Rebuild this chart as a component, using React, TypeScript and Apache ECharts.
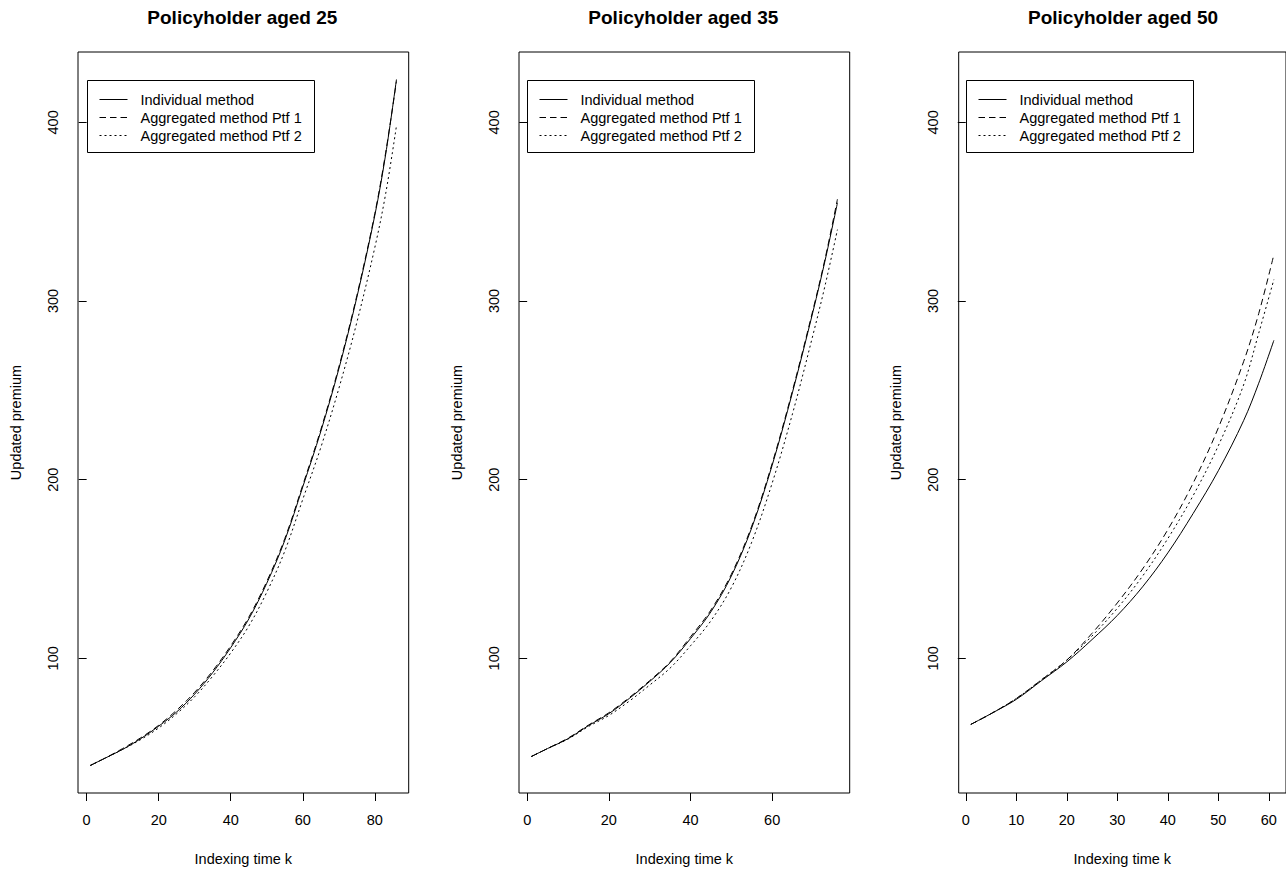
import React, { useEffect, useRef } from "react";
import * as echarts from "echarts";

// ---------- data ----------
const TITLES = ["Policyholder aged 25", "Policyholder aged 35", "Policyholder aged 50"];
const SERIES_NAMES = ["Individual method", "Aggregated method Ptf 1", "Aggregated method Ptf 2"];

// Panel 1 (aged 25)
const K1 = [1, 5, 10, 15, 20, 25, 30, 35, 40, 45, 50, 55, 60, 65, 70, 75, 80, 83, 86];
const IND1 = [40, 44, 49, 55, 62, 70, 80, 92, 106, 122, 142, 166, 196, 227, 262, 302, 348, 382, 424];
const PTF1_1 = [40, 44, 49.5, 55.5, 62.5, 71, 81, 93, 107, 123, 143, 167, 197, 228, 263, 303, 349, 383, 423];
const PTF2_1 = [40, 44, 49, 54.5, 61, 69, 78.5, 90, 103, 118, 137, 160, 189, 218, 251, 288, 330, 360, 398];

// Panel 2 (aged 35)
const K2 = [1, 5, 10, 15, 20, 25, 30, 35, 40, 45, 50, 55, 60, 65, 70, 73, 76];
const IND2 = [45, 49.5, 55, 62.3, 69, 77.5, 87, 97.5, 111, 126, 146, 173, 208, 249, 294, 323, 355];
const PTF1_2 = [45, 49.5, 55.3, 62.6, 69.5, 78, 87.5, 98, 112, 127, 147, 174, 209, 250, 295, 324, 357];
const PTF2_2 = [45, 49.5, 54.8, 61.8, 68, 76, 85, 94.5, 107, 121, 139.5, 165, 198, 237, 281, 309, 340];

// Panel 3 (aged 50)
const K3 = [1, 5, 10, 15, 20, 25, 30, 35, 40, 45, 50, 55, 58, 61];
const IND3 = [63, 69, 77, 87.5, 98, 110.5, 124, 140, 159, 181, 205, 233, 254, 278];
const PTF1_3 = [63, 69, 77.5, 88, 99, 114, 131, 150, 172, 198, 229, 266, 293, 326];
const PTF2_3 = [63, 69, 77.5, 88, 99, 112.5, 128, 146, 167, 191, 219, 253, 282, 312];

// axes
const X_RANGES = [[-2.4, 89.4], [-2, 79], [-1.4, 63.4]];
const X_TICKS = [[0, 20, 40, 60, 80], [0, 20, 40, 60], [0, 10, 20, 30, 40, 50, 60]];
const Y_RANGE = [24.6, 439.4];
const Y_TICKS = [100, 200, 300, 400];
const LEGEND_ANCHOR = [0, 424];

const X_NAME = "Indexing time k";
const Y_NAME = "Updated premium";

// ---------- layout ----------
const FONT = "'Liberation Sans', Arial, Helvetica, sans-serif";
const GRID_LEFTS = [78, 519, 958.7];
const GRID_TOP = 52;
const GRID_W = 330.7;
const GRID_H = 747;
const DASHES: any[] = ["solid", [6.5, 4], [2, 3]];

const PANELS = [
  { k: K1, series: [IND1, PTF1_1, PTF2_1] },
  { k: K2, series: [IND2, PTF1_2, PTF2_2] },
  { k: K3, series: [IND3, PTF1_3, PTF2_3] },
];

function buildOption() {
  const grid = GRID_LEFTS.map((left) => ({
    left,
    top: GRID_TOP,
    width: GRID_W,
    height: GRID_H,
    show: true,
    borderColor: "#000",
    borderWidth: 1,
    backgroundColor: "transparent",
    containLabel: false,
  }));
  const xAxis = X_RANGES.map((r, i) => ({
    type: "value",
    gridIndex: i,
    min: r[0],
    max: r[1],
    name: X_NAME,
    nameLocation: "middle",
    nameGap: 58,
    nameTextStyle: { fontSize: 14.5, fontFamily: FONT, color: "#000" },
    axisLine: { show: false },
    axisTick: { show: true, length: 8, lineStyle: { color: "#000", width: 1 }, customValues: X_TICKS[i] },
    axisLabel: { show: true, margin: 19, fontSize: 14.5, fontFamily: FONT, color: "#000", customValues: X_TICKS[i] },
    splitLine: { show: false },
  }));
  const yAxis = X_RANGES.map((_, i) => ({
    type: "value",
    gridIndex: i,
    min: Y_RANGE[0],
    max: Y_RANGE[1],
    name: Y_NAME,
    nameLocation: "middle",
    nameGap: 55,
    nameTextStyle: { fontSize: 14.5, fontFamily: FONT, color: "#000" },
    axisLine: { show: false },
    axisTick: { show: true, length: 8, lineStyle: { color: "#000", width: 1 }, customValues: Y_TICKS },
    axisLabel: { show: true, rotate: 90, margin: 18, fontSize: 14.5, fontFamily: FONT, color: "#000", customValues: Y_TICKS },
    splitLine: { show: false },
  }));
  const series: any[] = [];
  PANELS.forEach((p, i) => {
    p.series.forEach((vals, s) => {
      series.push({
        type: "line",
        name: SERIES_NAMES[s],
        xAxisIndex: i,
        yAxisIndex: i,
        data: p.k.map((k, j) => [k, vals[j]]),
        smooth: 0.35,
        symbol: "none",
        showSymbol: false,
        lineStyle: { color: "#000", width: 1, type: DASHES[s] },
        z: 3 + s,
      });
    });
  });
  const title = TITLES.map((t, i) => ({
    text: t,
    left: GRID_LEFTS[i] + GRID_W / 2 - 1,
    top: 8,
    padding: 0,
    textAlign: "center",
    textStyle: { fontSize: 19, fontWeight: "bold", fontFamily: FONT, color: "#000" },
  }));
  return {
    animation: false,
    backgroundColor: "#fff",
    textStyle: { fontFamily: FONT },
    title,
    grid,
    xAxis,
    yAxis,
    series,
  };
}

function legendGroup(x: number, y: number) {
  const children: any[] = [
    {
      type: "rect",
      shape: { x: 0, y: 0, width: 227, height: 72 },
      style: { fill: "#fff", stroke: "#000", lineWidth: 1 },
    },
  ];
  SERIES_NAMES.forEach((name, s) => {
    const cy = 19 + s * 18;
    children.push({
      type: "line",
      shape: { x1: 12, y1: cy, x2: 40, y2: cy },
      style: { stroke: "#000", lineWidth: 1, lineDash: s === 0 ? null : DASHES[s] },
    });
    children.push({
      type: "text",
      x: 53,
      y: cy,
      style: { text: name, fontSize: 14.5, fontFamily: FONT, fill: "#000", verticalAlign: "middle", align: "left" },
    });
  });
  return { type: "group", x, y, z: 10, children };
}

export default function App() {
  const ref = useRef<HTMLDivElement>(null);
  useEffect(() => {
    if (!ref.current) return;
    const chart = echarts.init(ref.current, null, { renderer: "svg" });
    chart.setOption(buildOption() as any);
    const graphic = PANELS.map((_, i) => {
      const pt = chart.convertToPixel({ gridIndex: i } as any, LEGEND_ANCHOR) as number[];
      return legendGroup(Math.round(pt[0]) + 0.5, Math.round(pt[1]) + 0.5);
    });
    chart.setOption({ graphic } as any);
    return () => chart.dispose();
  }, []);
  return (
    <div
      ref={ref}
      style={{ position: "absolute", left: 0, top: 0, width: 1286, height: 871, overflow: "hidden", background: "#fff" }}
    />
  );
}
